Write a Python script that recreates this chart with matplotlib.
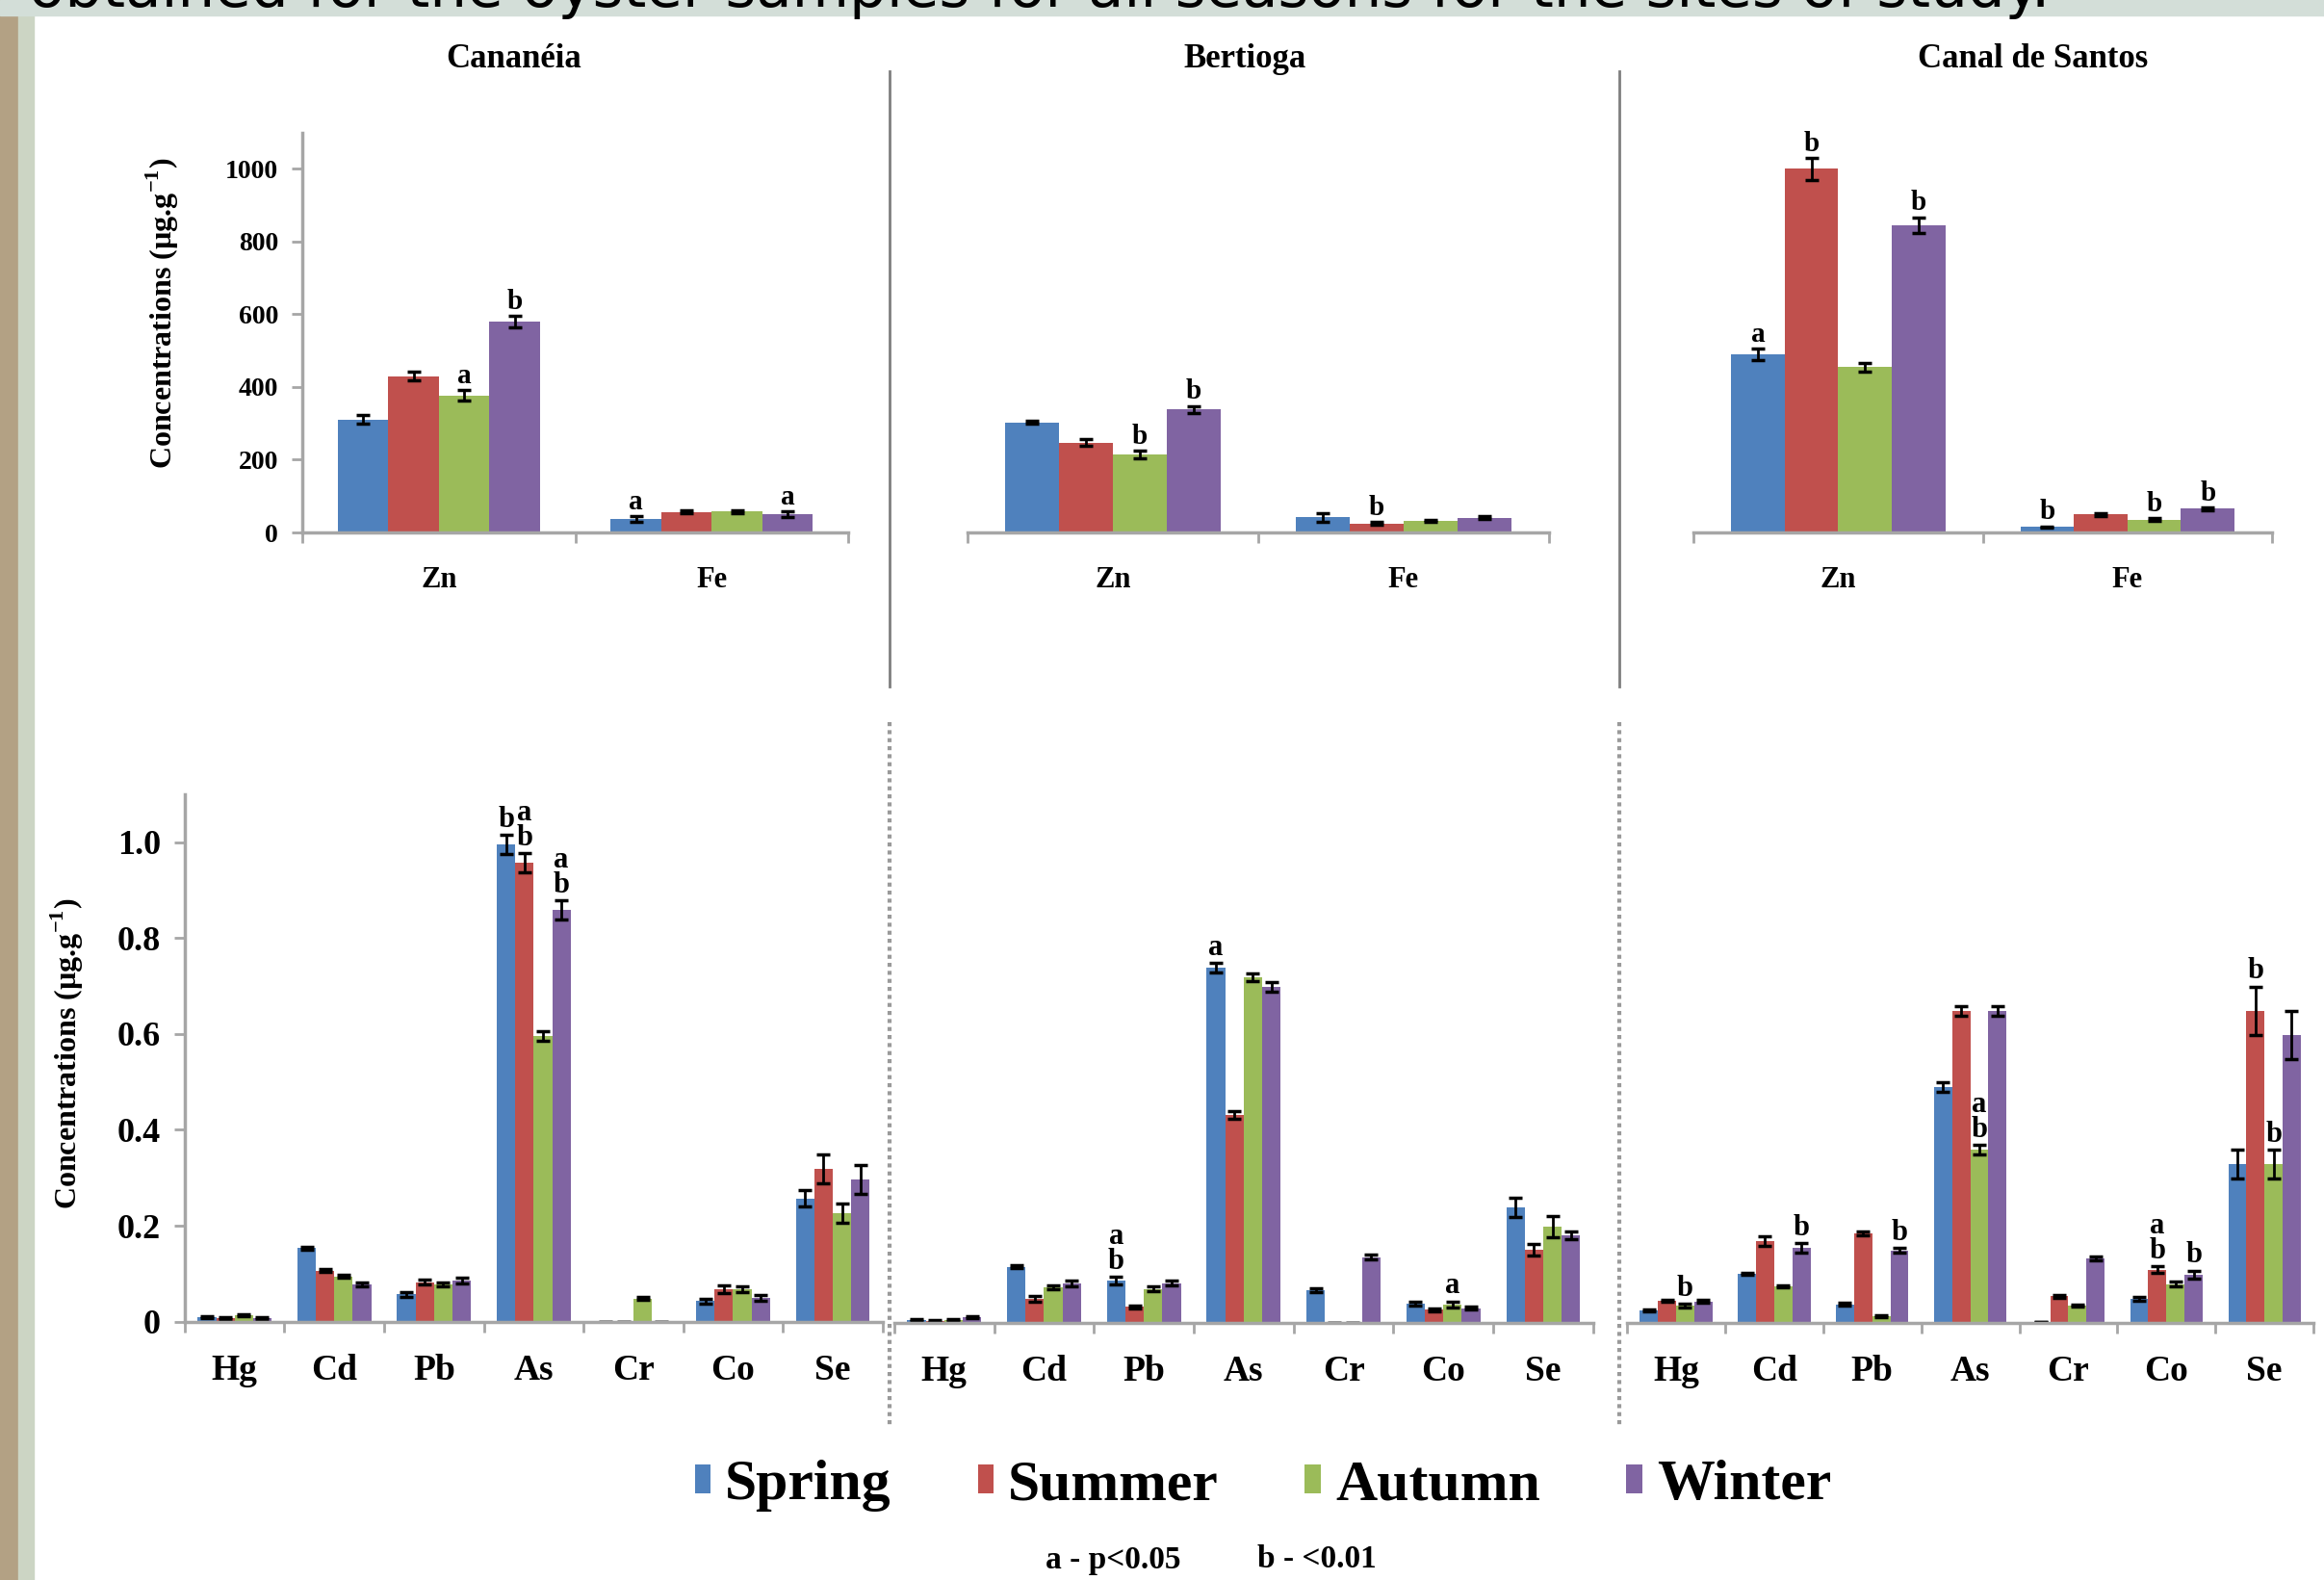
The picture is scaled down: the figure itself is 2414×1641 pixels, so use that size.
import numpy as np
import matplotlib
matplotlib.use("Agg")
import matplotlib.pyplot as plt
from matplotlib.patches import Patch, Rectangle
from matplotlib.lines import Line2D

plt.rcParams['font.family'] = ['Liberation Serif', 'DejaVu Serif']
plt.rcParams['font.weight'] = 'bold'
plt.rcParams['mathtext.fontset'] = 'custom'
plt.rcParams['mathtext.rm'] = 'Liberation Serif:bold'
plt.rcParams['mathtext.bf'] = 'Liberation Serif:bold'

seasons = ["Spring", "Summer", "Autumn", "Winter"]
colors = ["#4F81BD", "#C0504D", "#9BBB59", "#8064A2"]
sites = ["Cananéia", "Bertioga", "Canal de Santos"]
major = ["Zn", "Fe"]
trace = ["Hg", "Cd", "Pb", "As", "Cr", "Co", "Se"]

# top row (Zn, Fe), one row per season
can_major = [[311, 37], [430, 56], [377, 58], [580, 50]]
can_major_err = [[12, 8], [12, 4], [14, 4], [16, 8]]
ber_major = [[302, 42], [247, 25], [215, 32], [338, 40]]
ber_major_err = [[4, 12], [10, 3], [10, 3], [10, 4]]
san_major = [[490, 15], [1000, 50], [455, 35], [845, 65]]
san_major_err = [[15, 2], [30, 4], [12, 4], [22, 4]]

# bottom row (Hg, Cd, Pb, As, Cr, Co, Se)
can_trace = [[0.010, 0.153, 0.057, 0.995, 0.0, 0.043, 0.257],
             [0.008, 0.106, 0.082, 0.957, 0.0, 0.068, 0.318],
             [0.014, 0.094, 0.077, 0.596, 0.048, 0.067, 0.226],
             [0.008, 0.078, 0.085, 0.858, 0.0, 0.049, 0.296]]
can_trace_err = [[0.002, 0.003, 0.005, 0.02, 0.0, 0.005, 0.017],
                 [0.002, 0.003, 0.005, 0.02, 0.0, 0.008, 0.03],
                 [0.002, 0.003, 0.004, 0.01, 0.003, 0.006, 0.02],
                 [0.002, 0.004, 0.006, 0.02, 0.0, 0.006, 0.03]]
ber_trace = [[0.006, 0.116, 0.087, 0.740, 0.068, 0.040, 0.240],
             [0.004, 0.050, 0.033, 0.432, 0.0, 0.027, 0.152],
             [0.006, 0.074, 0.070, 0.720, 0.0, 0.038, 0.200],
             [0.011, 0.082, 0.082, 0.700, 0.136, 0.030, 0.182]]
ber_trace_err = [[0.002, 0.003, 0.008, 0.01, 0.004, 0.004, 0.02],
                 [0.002, 0.006, 0.003, 0.008, 0.0, 0.003, 0.012],
                 [0.002, 0.004, 0.005, 0.008, 0.0, 0.006, 0.022],
                 [0.002, 0.006, 0.005, 0.01, 0.005, 0.003, 0.008]]
san_trace = [[0.026, 0.102, 0.038, 0.490, 0.001, 0.050, 0.330],
             [0.045, 0.170, 0.186, 0.650, 0.055, 0.110, 0.650],
             [0.035, 0.075, 0.013, 0.360, 0.035, 0.080, 0.330],
             [0.044, 0.155, 0.150, 0.650, 0.134, 0.100, 0.600]]
san_trace_err = [[0.002, 0.002, 0.003, 0.01, 0.0, 0.004, 0.03],
                 [0.002, 0.01, 0.004, 0.01, 0.003, 0.007, 0.05],
                 [0.004, 0.002, 0.002, 0.01, 0.002, 0.005, 0.03],
                 [0.003, 0.01, 0.005, 0.01, 0.004, 0.008, 0.05]]

# significance letters: (category index, season index, text)
can_major_notes = [(0, 2, "a"), (0, 3, "b"), (1, 0, "a"), (1, 3, "a")]
ber_major_notes = [(0, 2, "b"), (0, 3, "b"), (1, 1, "b")]
san_major_notes = [(0, 0, "a"), (0, 1, "b"), (0, 3, "b"), (1, 0, "b"), (1, 2, "b"), (1, 3, "b")]
can_trace_notes = [(3, 0, "b"), (3, 1, "a\nb"), (3, 3, "a\nb")]
ber_trace_notes = [(2, 0, "a\nb"), (3, 0, "a"), (5, 2, "a")]
san_trace_notes = [(0, 2, "b"), (1, 3, "b"), (2, 3, "b"), (3, 2, "a\nb"), (5, 1, "a\nb"),
                   (5, 3, "b"), (6, 1, "b"), (6, 2, "b")]

W, H = 2414, 1641
fig = plt.figure(figsize=(W / 100, H / 100), dpi=100)
AXIS_GRAY = "#A6A6A6"


def draw(ax, cats, vals, errs, notes, ymax, yticks, ylabels, show_y, fs_tick, fs_cat, fs_note, cat_pad):
    n = len(cats)
    x = np.arange(n)
    w = 0.185
    for i in range(4):
        ax.bar(x + (i - 1.5) * w, vals[i], w, yerr=errs[i], color=colors[i],
               error_kw=dict(ecolor="black", elinewidth=2, capsize=5, capthick=2.5))
    for c, s, txt in notes:
        top = vals[s][c] + errs[s][c]
        ax.annotate(txt, (c + (s - 1.5) * w, top), xytext=(0, 1), textcoords="offset points",
                    ha="center", va="bottom", fontsize=fs_note, linespacing=0.85)
    ax.set_xlim(-0.5, n - 0.5)
    ax.set_ylim(0, ymax)
    ax.set_xticks(np.arange(n + 1) - 0.5)
    ax.set_xticklabels([])
    ax.set_xticks(x, minor=True)
    ax.set_xticklabels(cats, minor=True)
    ax.tick_params(axis="x", which="major", length=8, width=2, color=AXIS_GRAY)
    ax.tick_params(axis="x", which="minor", length=0, pad=cat_pad, labelsize=fs_cat)
    for side in ["top", "right"]:
        ax.spines[side].set_visible(False)
    ax.spines["bottom"].set_color(AXIS_GRAY)
    ax.spines["bottom"].set_linewidth(2.5)
    if show_y:
        ax.set_yticks(yticks)
        ax.set_yticklabels(ylabels)
        ax.tick_params(axis="y", length=8, width=2, color=AXIS_GRAY, labelsize=fs_tick, pad=10)
        ax.spines["left"].set_color(AXIS_GRAY)
        ax.spines["left"].set_linewidth(2.5)
    else:
        ax.spines["left"].set_visible(False)
        ax.set_yticks([])
    ax.set_facecolor("none")


top_rects = [(0.1301, 0.6630, 0.2349, 0.2532), (0.4163, 0.6630, 0.2502, 0.2532), (0.7287, 0.6630, 0.2490, 0.2532)]
bot_rects = [(0.0795, 0.1635, 0.3003, 0.3339), (0.3848, 0.1630, 0.3007, 0.3339), (0.7001, 0.1630, 0.2954, 0.3339)]
top_data = [(can_major, can_major_err, can_major_notes), (ber_major, ber_major_err, ber_major_notes),
            (san_major, san_major_err, san_major_notes)]
bot_data = [(can_trace, can_trace_err, can_trace_notes), (ber_trace, ber_trace_err, ber_trace_notes),
            (san_trace, san_trace_err, san_trace_notes)]

top_ticks = [0, 200, 400, 600, 800, 1000]
bot_ticks = [0, 0.2, 0.4, 0.6, 0.8, 1.0]
bot_tick_labels = ["0", "0.2", "0.4", "0.6", "0.8", "1.0"]

for k in range(3):
    ax = fig.add_axes(top_rects[k])
    v, e, nts = top_data[k]
    draw(ax, major, v, e, nts, 1100, top_ticks, [str(t) for t in top_ticks], k == 0, 20, 22, 21, 25)
    ax = fig.add_axes(bot_rects[k])
    v, e, nts = bot_data[k]
    draw(ax, trace, v, e, nts, 1.1, bot_ticks, bot_tick_labels, k == 0, 26, 27, 22, 24)

# site titles
for name, xc in zip(sites, [534, 1293, 2112]):
    fig.text(xc / W, 1 - 62 / H, name, ha="center", va="center", fontsize=25)

ylab = "Concentrations (µg.g$^{-1}$)"
fig.text(169 / W, 1 - 325 / H, ylab, rotation=90, ha="center", va="center", fontsize=23)
fig.text(70 / W, 1 - 1094 / H, ylab, rotation=90, ha="center", va="center", fontsize=23)

# separators between sites
for xs in [924, 1682]:
    fig.add_artist(Line2D([xs / W] * 2, [1 - 74 / H, 1 - 713 / H], color="#7F7F7F", lw=2))
    fig.add_artist(Line2D([xs / W] * 2, [1 - 750 / H, 1 - 1482 / H], color="#9A9A9A", lw=3,
                          linestyle=(0, (1, 1))))

# slide background pieces
fig.add_artist(Rectangle((0, 0), 19 / W, 1, transform=fig.transFigure, color="#B3A184", zorder=0))
fig.add_artist(Rectangle((19 / W, 0), 16 / W, 1, transform=fig.transFigure, color="#CCD5C4", zorder=0))
fig.add_artist(Rectangle((0, 1 - 16 / H), 1, 16 / H, transform=fig.transFigure, color="#D3DED8", zorder=0))
fig.text(30 / W, 1 - 7 / H, "obtained for the oyster samples for all seasons for the sites of study.",
         ha="left", va="baseline", fontsize=44, family="DejaVu Sans", weight="normal")

handles = [Patch(facecolor=c, edgecolor="none") for c in colors]
fig.legend(handles, seasons, loc="center", bbox_to_anchor=(0.5435, 1 - 1543 / H), ncol=4,
           frameon=False, fontsize=43, handlelength=0.28, handleheight=0.4,
           handletextpad=0.25, columnspacing=1.5)

fig.text(1156 / W, 1 - 1620 / H, "a - p<0.05", ha="center", va="center", fontsize=24)
fig.text(1368 / W, 1 - 1620 / H, "b - <0.01", ha="center", va="center", fontsize=24)

fig.savefig("out.png", dpi=100, facecolor="white")
